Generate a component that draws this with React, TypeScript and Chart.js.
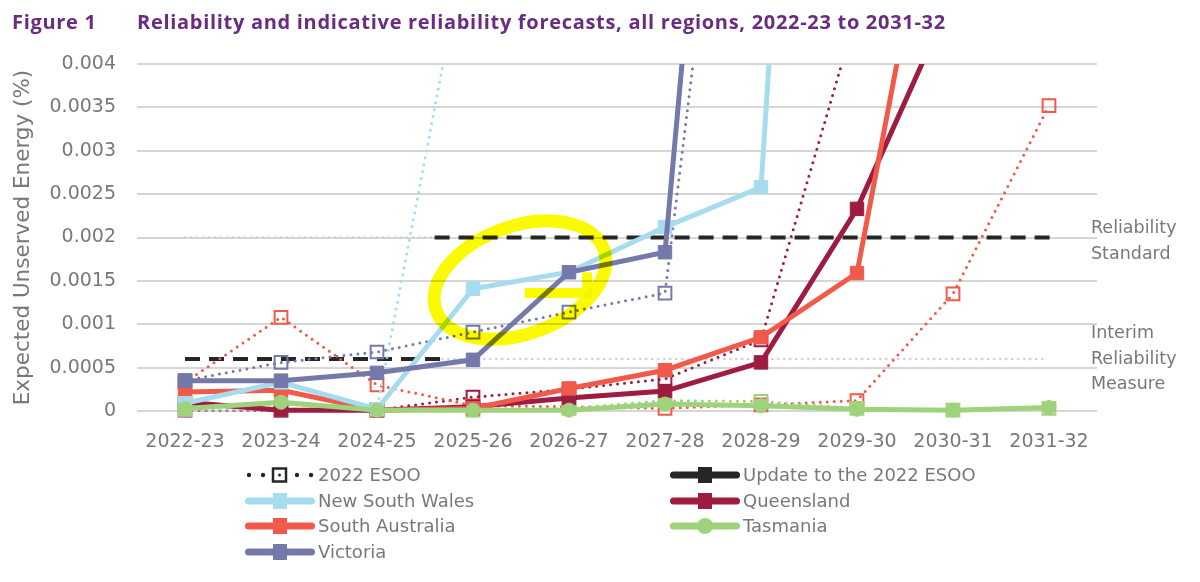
import React, { useEffect, useRef } from 'react';
import { Chart, registerables } from 'chart.js';

Chart.register(...registerables);

// ---------- data ----------
const xLabels = ['2022-23', '2023-24', '2024-25', '2025-26', '2026-27', '2027-28', '2028-29', '2029-30', '2030-31', '2031-32'];

// Update to the 2022 ESOO (solid)
const nswUpdate = [0.00009, 0.00033, 0.00002, 0.00141, 0.0016, 0.00212, 0.00258, 0.0196, null, null];
const qldUpdate = [0.0001, 0.00001, 0.00001, 0.00005, 0.00015, 0.00023, 0.00056, 0.00233, 0.0048, 0.0072];
const saUpdate = [0.00022, 0.00024, 0.00001, 0.00003, 0.00026, 0.00047, 0.00085, 0.00159, 0.0074, null];
const tasUpdate = [0.00003, 0.0001, 0.00001, 0.00001, 0.00001, 0.00008, 0.00006, 0.00002, 0.00001, 0.00004];
const vicUpdate = [0.00035, 0.00035, 0.00044, 0.00059, 0.0016, 0.00183, 0.0141, null, null, null];

// 2022 ESOO (dotted)
const nswEsoo = [0.00002, 0.00002, 0.00002, 0.0058, null, null, null, null, null, null];
const qldEsoo = [0.00001, 0.00001, 0.00001, 0.00016, 0.00025, 0.00037, 0.00082, 0.0046, null, null];
const saEsoo = [0.00033, 0.00108, 0.0003, 0.00006, 0.00005, 0.00003, 0.00007, 0.00012, 0.00135, 0.00352];
const tasEsoo = [0.00003, 0.00008, 0.00001, 0.00001, 0.00003, 0.00012, 0.00011, 0.00003, 0.00001, 0.00003];
const vicEsoo = [0.00035, 0.00056, 0.00068, 0.00091, 0.00114, 0.00136, 0.0104, null, null, null];

// Reliability reference levels and their spans (category index units)
const reliabilityStandard = 0.002;
const interimMeasure = 0.0006;
const standardEsooSpan = [0, 2.6];
const standardUpdateSpan = [2.6, 9.07];
const interimUpdateSpan = [0, 2.68];
const interimEsooSpan = [2.68, 8.95];

// Hand-drawn highlight (data units)
const highlightCenter = [3.49, 0.00151];
const highlightRadii = [0.93, 0.00062];
const highlightTail = [[3.54, 0.00136], [4.19, 0.00136], [4.19, 0.0016]];

const yMax = 0.004;
const yStep = 0.0005;

// ---------- styles ----------
const FONT = '"DejaVu Sans", sans-serif';
const GRAY = '#787878';
const C = {
  nsw: '#a7dbee',
  qld: '#9d1c40',
  sa: '#ef5a4b',
  tas: '#9ed37b',
  vic: '#7479a9',
  black: '#262626',
};

const pts = (arr: (number | null)[]) => arr.map((y, i) => ({ x: i, y }));
const span = (s: number[], v: number) => [{ x: s[0], y: v }, { x: s[1], y: v }];

const clip = { left: 12, right: 12, top: 0, bottom: 14 };

const solid = (label: string, data: (number | null)[], color: string, circle = false) => ({
  label,
  data: pts(data),
  borderColor: color,
  backgroundColor: color,
  borderWidth: 5,
  pointStyle: circle ? 'circle' : 'rect',
  pointRadius: circle ? 7 : 9.5,
  pointBackgroundColor: color,
  pointBorderColor: color,
  pointBorderWidth: 1,
  tension: 0,
  clip,
});

const dotted = (label: string, data: (number | null)[], color: string) => ({
  label,
  data: pts(data),
  borderColor: color,
  backgroundColor: 'rgba(255,255,255,0)',
  borderWidth: 3,
  borderDash: [0, 7],
  borderCapStyle: 'round',
  pointStyle: 'rect',
  pointRadius: 9,
  pointBackgroundColor: 'rgba(255,255,255,0)',
  pointBorderColor: color,
  pointBorderWidth: 2,
  tension: 0,
  clip,
});

const refLine = (data: any[], color: string, width: number, dash: number[], cap = 'butt') => ({
  label: '',
  data,
  borderColor: color,
  borderWidth: width,
  borderDash: dash,
  borderCapStyle: cap,
  pointRadius: 0,
  clip,
});

const highlightPlugin = {
  id: 'highlight',
  afterDatasetsDraw(chart: any) {
    const { ctx, scales } = chart;
    const x = scales.x;
    const y = scales.y;
    const cx = x.getPixelForValue(highlightCenter[0]);
    const cy = y.getPixelForValue(highlightCenter[1]);
    const rx = Math.abs(x.getPixelForValue(highlightCenter[0] + highlightRadii[0]) - cx);
    const ry = Math.abs(y.getPixelForValue(highlightCenter[1] + highlightRadii[1]) - cy);
    ctx.save();
    ctx.globalCompositeOperation = 'multiply';
    ctx.strokeStyle = '#fafa00';
    ctx.lineWidth = 13;
    ctx.beginPath();
    ctx.ellipse(cx, cy, rx, ry, -0.35, 0, Math.PI * 2);
    ctx.stroke();
    ctx.lineWidth = 10;
    ctx.beginPath();
    highlightTail.forEach((p, i) => {
      const px = x.getPixelForValue(p[0]);
      const py = y.getPixelForValue(p[1]);
      if (i === 0) ctx.moveTo(px, py);
      else ctx.lineTo(px, py);
    });
    ctx.stroke();
    ctx.restore();
  },
};

const legendItems = [
  { label: '2022 ESOO', color: C.black, kind: 'esoo' },
  { label: 'Update to the 2022 ESOO', color: C.black, kind: 'rect' },
  { label: 'New South Wales', color: C.nsw, kind: 'rect' },
  { label: 'Queensland', color: C.qld, kind: 'rect' },
  { label: 'South Australia', color: C.sa, kind: 'rect' },
  { label: 'Tasmania', color: C.tas, kind: 'circle' },
  { label: 'Victoria', color: C.vic, kind: 'rect' },
];

function LegendSymbol({ color, kind }: { color: string; kind: string }) {
  if (kind === 'esoo') {
    return (
      <svg width={70} height={20}>
        {[4, 18, 52, 66].map((cx) => (
          <circle key={cx} cx={cx} cy={10} r={2.2} fill={color} />
        ))}
        <rect x={28} y={3.5} width={13} height={13} fill="none" stroke={color} strokeWidth={2.5} />
        <circle cx={34.5} cy={10} r={1.5} fill={color} />
      </svg>
    );
  }
  return (
    <svg width={70} height={20}>
      <line x1={3.5} y1={10} x2={66.5} y2={10} stroke={color} strokeWidth={7} strokeLinecap="round" />
      {kind === 'circle' ? (
        <circle cx={35} cy={10} r={8} fill={color} />
      ) : (
        <rect x={28} y={2} width={14} height={16} fill={color} />
      )}
    </svg>
  );
}

const titleStyle: React.CSSProperties = {
  position: 'absolute',
  top: 8,
  fontFamily: '"Open Sans", sans-serif',
  fontWeight: 700,
  fontSize: 20,
  letterSpacing: '0.7px',
  color: '#6a2c80',
  whiteSpace: 'nowrap',
  lineHeight: '28px',
};

export default function App() {
  const canvasRef = useRef<HTMLCanvasElement>(null);

  useEffect(() => {
    if (!canvasRef.current) return;
    const chart = new Chart(canvasRef.current, {
      type: 'line',
      data: {
        datasets: [
          solid('Tasmania', tasUpdate, C.tas, true),
          solid('Victoria', vicUpdate, C.vic),
          solid('New South Wales', nswUpdate, C.nsw),
          solid('South Australia', saUpdate, C.sa),
          solid('Queensland', qldUpdate, C.qld),
          dotted('Tasmania 2022 ESOO', tasEsoo, C.tas),
          dotted('Victoria 2022 ESOO', vicEsoo, C.vic),
          dotted('New South Wales 2022 ESOO', nswEsoo, C.nsw),
          dotted('South Australia 2022 ESOO', saEsoo, C.sa),
          dotted('Queensland 2022 ESOO', qldEsoo, C.qld),
          refLine(span(standardUpdateSpan, reliabilityStandard), C.black, 4, [15, 9]),
          refLine(span(interimUpdateSpan, interimMeasure), C.black, 4, [15, 9]),
          refLine(span(standardEsooSpan, reliabilityStandard), '#cfcfcf', 2.5, [0, 6], 'round'),
          refLine(span(interimEsooSpan, interimMeasure), '#cfcfcf', 2.5, [0, 6], 'round'),
        ] as any,
      },
      options: {
        responsive: false,
        animation: false,
        events: [],
        layout: { padding: { left: 0, top: 64, right: 103, bottom: 0 } },
        plugins: {
          legend: { display: false },
          tooltip: { enabled: false },
          title: { display: false },
        },
        scales: {
          x: {
            type: 'linear',
            min: -0.5,
            max: xLabels.length - 0.5,
            afterBuildTicks: (scale: any) => {
              scale.ticks = xLabels.map((_, i) => ({ value: i }));
            },
            afterFit: (scale: any) => {
              scale.height = 171;
            },
            grid: { display: false, drawTicks: false },
            border: { display: false },
            ticks: {
              autoSkip: false,
              maxRotation: 0,
              padding: 20,
              color: GRAY,
              font: { family: FONT, size: 19 },
              callback: (v: any) => xLabels[Math.round(Number(v))] ?? '',
            },
          },
          y: {
            type: 'linear',
            min: 0,
            max: yMax,
            afterFit: (scale: any) => {
              scale.width = 137;
            },
            grid: { color: '#d6d6d6', lineWidth: 2, drawTicks: false },
            border: { display: false },
            ticks: {
              stepSize: yStep,
              padding: 21,
              color: GRAY,
              font: { family: FONT, size: 19 },
              callback: (v: any) => (Number(v) === 0 ? '0' : String(Number(Number(v).toFixed(4)))),
            },
            title: {
              display: true,
              text: 'Expected Unserved Energy (%)',
              color: GRAY,
              font: { family: FONT, size: 21.5 },
              padding: { top: 11, bottom: 0 },
            },
          },
        },
      },
      plugins: [highlightPlugin],
    } as any);
    return () => chart.destroy();
  }, []);

  const rowY = (r: number) => 475 + r * 25.7;

  return (
    <div
      style={{
        position: 'absolute',
        left: 0,
        top: 0,
        width: 1200,
        height: 582,
        background: '#ffffff',
        overflow: 'hidden',
        fontFamily: FONT,
      }}
    >
      <canvas ref={canvasRef} width={1200} height={582} style={{ position: 'absolute', left: 0, top: 0 }} />
      <div style={{ ...titleStyle, left: 12 }}>Figure 1</div>
      <div style={{ ...titleStyle, left: 137 }}>
        Reliability and indicative reliability forecasts, all regions, 2022-23 to 2031-32
      </div>
      <div style={{ position: 'absolute', left: 1091, top: 215, fontSize: 17.5, lineHeight: '25.5px', color: GRAY }}>
        Reliability
        <br />
        Standard
      </div>
      <div style={{ position: 'absolute', left: 1091, top: 320, fontSize: 17.5, lineHeight: '25.5px', color: GRAY }}>
        Interim
        <br />
        Reliability
        <br />
        Measure
      </div>
      {legendItems.map((item, i) => {
        const col = i % 2;
        const row = Math.floor(i / 2);
        return (
          <div
            key={item.label}
            style={{
              position: 'absolute',
              left: col === 0 ? 245 : 670,
              top: rowY(row) - 12,
              height: 24,
              display: 'flex',
              alignItems: 'center',
              whiteSpace: 'nowrap',
            }}
          >
            <LegendSymbol color={item.color} kind={item.kind} />
            <span style={{ marginLeft: 3, fontSize: 18, color: GRAY, lineHeight: '24px' }}>{item.label}</span>
          </div>
        );
      })}
    </div>
  );
}
